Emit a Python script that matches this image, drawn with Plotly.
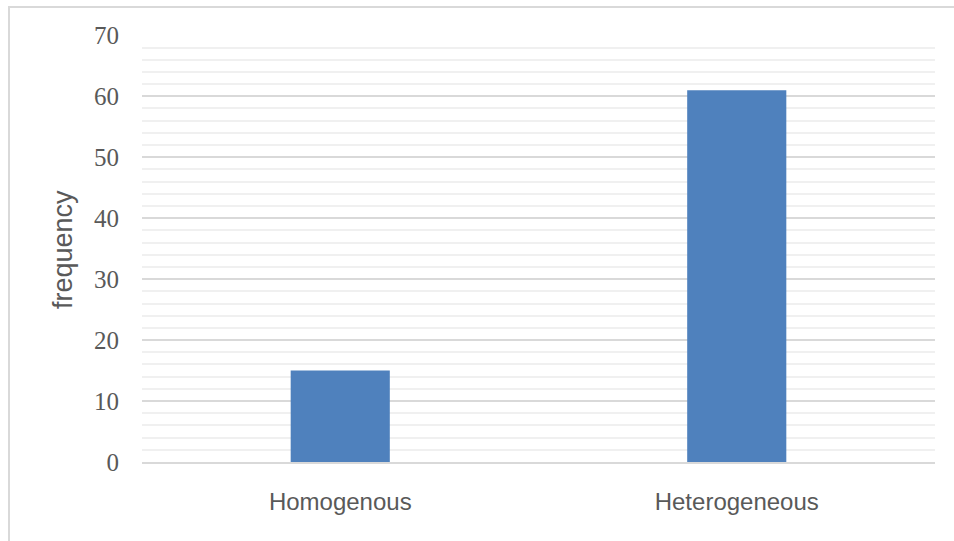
import plotly.graph_objects as go

categories = ["Homogenous", "Heterogeneous"]
frequency = [15, 61]
y_ticks = [0, 10, 20, 30, 40, 50, 60, 70]

W, H = 954, 541
L, R, T, B = 142, 19, 35, 79
pw, ph = W - L - R, H - T - B

def px_x(p):
    return (p - L) / pw

def px_y(p):
    return (H - B - p) / ph

fig = go.Figure()
fig.add_trace(go.Bar(x=categories, y=frequency, marker=dict(color="#4f81bd", line=dict(width=0)),
                     width=0.25))

fig.update_layout(
    width=W, height=H,
    margin=dict(l=L, r=R, t=T, b=B),
    paper_bgcolor="white", plot_bgcolor="white",
    showlegend=False,
    xaxis=dict(showgrid=False, showline=True, linecolor="#d9d9d9", linewidth=2,
               ticks="", ticklabelstandoff=17,
               tickfont=dict(family="Liberation Sans", size=24, color="#595959")),
    yaxis=dict(range=[0, 70.05], tickvals=y_ticks, showline=False, zeroline=False,
               gridcolor="#d9d9d9", gridwidth=1.5,
               minor=dict(dtick=2, showgrid=True, gridcolor="#f0f0f0", gridwidth=1.5),
               ticks="", ticklabelstandoff=22,
               tickfont=dict(family="Liberation Serif", size=25, color="#595959")),
    shapes=[dict(type="rect", xref="paper", yref="paper",
                 x0=px_x(9), x1=px_x(970), y0=px_y(560), y1=px_y(7),
                 line=dict(color="#d9d9d9", width=2), fillcolor="rgba(0,0,0,0)", layer="below")],
    annotations=[dict(text="frequency", xref="paper", yref="paper", x=px_x(63), y=px_y(250),
                      textangle=-90, showarrow=False, xanchor="center", yanchor="middle",
                      font=dict(family="Liberation Sans", size=27, color="#595959"))],
)

fig.write_html("out.html")
